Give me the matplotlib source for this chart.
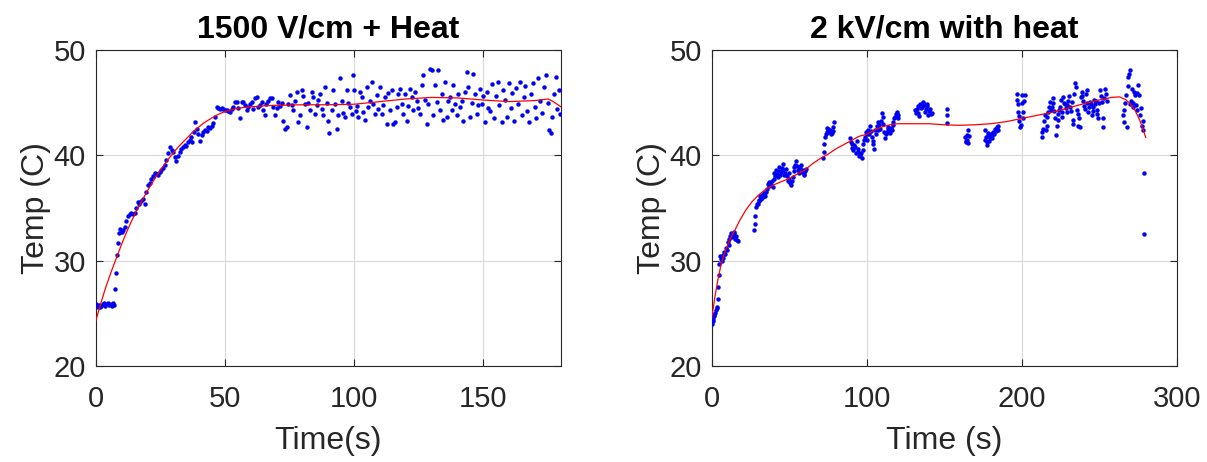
import matplotlib
matplotlib.use("Agg")
import matplotlib.pyplot as plt

plt.rcParams['font.family'] = ['Liberation Sans', 'DejaVu Sans']

# ---------------- Left panel: 1500 V/cm + Heat ----------------
title_left = "1500 V/cm + Heat"
t_left = [0.3, 0.8, 1.3, 1.8, 2.3, 2.8, 3.3, 3.8, 4.3, 4.8, 5.3, 5.8, 6.3, 6.8, 7.2,
          7.7, 7.9, 8.4, 8.7, 9.1, 9.6, 10.1, 10.6, 11.3, 11.9, 12.6, 13.2, 13.8, 14.5, 15.2,
          15.8, 16.4, 17.0, 17.7, 18.3, 19.0, 19.6, 20.3, 21.0, 21.6, 22.3, 22.9, 23.6, 24.2,
          24.8, 25.4, 26.1, 26.7, 27.4, 28.0, 28.9, 29.5, 30.0, 30.6, 31.2, 31.9, 32.5, 33.2,
          33.8, 34.5, 35.1, 35.8, 36.4, 37.0, 37.2, 38.0, 38.5, 39.1, 39.7, 40.4, 41.0, 41.7,
          42.3, 43.0, 43.6, 44.2, 44.9, 45.5, 46.2, 46.8, 47.4, 48.1, 48.8, 49.4, 50.1, 50.7,
          51.4, 52.0, 52.6, 53.3, 53.9, 54.6, 55.2, 55.9, 56.5, 57.1, 57.8, 58.4, 59.1, 59.7,
          60.4, 61.0, 61.7, 62.3, 62.9, 63.6, 64.2, 64.8, 65.5, 66.1, 66.8, 67.5, 68.1, 68.7,
          69.4, 70.1, 70.7, 71.3, 72.0, 72.6, 73.3, 73.9, 74.5, 75.2, 75.8, 76.5, 77.1, 77.8,
          78.4, 79.0, 79.7, 80.3, 81.0, 81.6, 82.3, 82.9, 83.6, 84.2, 84.9, 85.5, 86.2, 86.8,
          87.4, 88.1, 88.7, 89.4, 90.0, 90.4, 91.3, 91.9, 92.6, 93.2, 93.9, 94.5, 95.2, 95.8,
          96.4, 97.1, 97.7, 98.4, 99.0, 99.6, 100.0, 100.6, 101.0, 101.6, 102.3, 102.9, 103.5,
          104.2, 104.8, 105.5, 106.1, 106.8, 107.4, 108.1, 108.7, 109.4, 110.0, 110.6, 111.3,
          112.0, 112.6, 113.2, 113.9, 114.5, 115.1, 115.8, 116.4, 117.0, 117.7, 118.4, 119.0,
          119.6, 120.3, 121.0, 121.6, 122.2, 122.8, 123.5, 124.2, 124.8, 125.4, 126.1, 126.7,
          127.4, 128.0, 128.6, 129.3, 130.0, 130.6, 131.2, 131.9, 132.5, 133.2, 133.8, 134.5,
          135.1, 135.8, 136.4, 137.0, 137.7, 138.3, 139.0, 139.6, 140.3, 141.0, 141.6, 142.2,
          142.9, 143.5, 144.1, 144.8, 145.4, 146.1, 146.7, 147.4, 148.0, 148.6, 149.3, 150.0,
          150.6, 151.3, 151.9, 152.5, 153.2, 154.0, 154.8, 155.5, 156.2, 157.0, 157.7, 158.4,
          159.1, 159.8, 160.5, 161.2, 162.0, 162.7, 163.4, 164.1, 164.8, 165.5, 166.2, 167.0,
          167.7, 168.4, 169.1, 169.8, 170.5, 171.2, 172.0, 172.7, 173.4, 174.1, 174.8, 175.5,
          176.0, 176.5, 177.2, 177.9, 178.6, 179.3, 179.8]
temp_left = [25.9, 25.6, 25.8, 25.6, 25.7, 25.9, 26.0, 25.7, 25.9, 26.0, 25.8, 25.9, 25.7, 26.0, 25.8,
             27.3, 28.8, 30.5, 31.7, 32.6, 33.0, 32.7, 32.9, 33.2, 33.8, 34.2, 34.4, 34.5, 34.4, 34.5,
             35.0, 35.6, 35.4, 35.7, 35.9, 35.4, 36.5, 37.2, 37.4, 37.8, 38.0, 38.3, 38.2, 38.1,
             38.4, 38.6, 38.8, 39.1, 39.6, 40.2, 40.8, 40.5, 40.3, 39.8, 39.5, 39.9, 40.3, 40.6,
             40.8, 41.0, 40.9, 41.3, 41.5, 41.7, 41.3, 42.2, 43.2, 42.5, 42.0, 41.4, 41.9, 42.2,
             42.4, 42.3, 42.7, 42.6, 42.8, 43.1, 43.6, 44.6, 44.5, 44.4, 44.5, 44.4, 44.3, 44.3,
             44.2, 44.1, 44.4, 44.6, 45.1, 45.1, 44.5, 43.5, 45.1, 45.1, 44.8, 44.3, 44.6, 44.9,
             45.1, 44.4, 45.4, 45.5, 44.6, 44.8, 45.1, 44.3, 43.8, 44.9, 45.2, 45.4, 45.4, 44.6,
             43.8, 44.5, 45.1, 44.7, 45.0, 43.3, 42.5, 42.7, 44.9, 45.7, 44.8, 44.3, 45.2, 46.0,
             43.2, 43.8, 46.2, 45.6, 44.9, 42.7, 45.0, 44.3, 46.0, 45.5, 43.9, 44.8, 45.3, 45.8,
             44.4, 43.8, 46.5, 45.0, 43.3, 42.1, 44.3, 46.2, 44.9, 42.5, 43.8, 47.3, 45.2, 44.0,
             43.6, 46.2, 45.0, 44.6, 43.9, 47.6, 46.2, 44.2, 44.7, 43.6, 46.0, 45.5, 44.1,
             43.4, 46.5, 44.6, 45.2, 47.0, 44.9, 43.9, 45.7, 44.4, 46.5, 43.9, 44.8,
             45.5, 43.0, 45.9, 44.3, 46.2, 43.0, 43.2, 44.6, 45.8, 46.3, 44.9, 43.9,
             45.8, 43.3, 44.7, 46.3, 45.5, 44.3, 46.0, 45.2, 44.5, 43.9, 46.7, 47.6,
             45.3, 43.0, 44.9, 48.2, 48.1, 43.8, 46.7, 45.1, 48.1, 44.3, 45.8, 43.4,
             47.0, 43.6, 45.2, 45.5, 44.3, 46.7, 44.9, 43.8, 45.8, 44.6, 45.2, 43.3,
             46.0, 47.9, 46.5, 43.6, 45.0, 47.7, 45.8, 43.9, 44.8, 46.3, 44.9, 45.6,
             43.2, 46.0, 44.5, 44.2, 46.8, 43.5, 45.6, 47.0, 44.8, 43.2, 46.2, 45.3,
             43.6, 46.9, 44.5, 45.9, 43.3, 46.4, 44.9, 47.0, 43.8, 45.5, 46.6, 44.2,
             43.2, 45.8, 46.9, 44.6, 43.5, 47.3, 45.2, 44.0, 46.5, 47.6, 45.0, 42.4,
             42.1, 43.6, 45.8, 47.4, 44.4, 46.2, 43.9]
fit_t_left = [0, 2, 4, 6, 8, 10, 12, 14, 16, 18, 20, 22, 24, 26, 28, 30, 32, 34, 36, 38, 40,
              42, 44, 46, 48, 50, 53, 56, 60, 65, 70, 80, 90, 100, 110, 120, 130, 140, 150,
              160, 170, 175, 177, 180]
fit_temp_left = [24.2, 25.9, 27.5, 28.9, 30.2, 31.5, 32.7, 33.8, 34.8, 35.7, 36.6, 37.4, 38.2,
                 38.9, 39.6, 40.2, 40.8, 41.3, 41.8, 42.3, 42.7, 43.1, 43.4, 43.7, 43.95, 44.15,
                 44.35, 44.5, 44.6, 44.7, 44.75, 44.8, 44.8, 44.85, 45.1, 45.35, 45.5, 45.45,
                 45.25, 45.1, 45.2, 45.35, 45.1, 44.6]

# ---------------- Right panel: 2 kV/cm with heat ----------------
title_right = "2 kV/cm with heat"
t_right = [0.0, 0.3, 0.6, 1.0, 1.3, 1.7, 2.2, 2.8, 3.1, 3.4, 3.9, 4.3, 4.5, 4.9, 5.4, 6.0, 6.5,
           7.1, 7.6, 8.1, 8.7, 9.2, 9.8, 10.3, 10.9, 11.4, 12.0, 12.5, 13.0, 13.5, 14.1, 14.6,
           15.2, 15.7, 16.3, 16.8,
           27.5, 28.1, 28.1, 28.6, 29.2, 29.7, 30.2, 30.7, 31.3, 31.8, 32.4, 32.9, 33.5, 34.0,
           34.5, 35.0, 35.6, 36.1, 36.7, 37.2, 37.8, 38.3, 38.9, 39.4, 40.0, 40.4, 41.0, 41.5,
           42.1, 42.6, 43.1, 43.6, 44.2, 44.7, 45.3, 45.8, 46.3, 46.8, 47.4, 47.9, 48.5, 49.0,
           49.6, 50.1, 50.7, 51.2, 51.7, 52.2, 52.8, 53.3, 53.9, 54.4, 55.0, 55.5, 56.0, 56.5,
           57.1, 57.6, 58.2, 58.7, 59.3, 59.8, 60.3, 60.8,
           72.0, 72.5, 72.6, 73.1, 73.6, 74.2, 74.7, 75.2, 75.8, 76.3, 76.9, 77.4, 78.0, 78.5, 79.1,
           89.2, 89.7, 90.3, 90.8, 91.4, 91.9, 92.5, 93.0, 93.5, 94.1, 94.6, 95.2, 95.7, 96.3,
           96.8, 97.4, 97.8, 98.4, 98.9, 99.5, 100.0, 100.5, 101.0, 101.6, 102.1, 102.7, 103.2,
           103.8, 104.3, 104.9, 105.4, 106.0, 106.5, 107.0, 107.5, 108.1, 108.6, 109.2, 109.7,
           110.2, 110.7, 111.3, 111.8, 112.4, 112.9, 113.5, 114.0, 114.5, 115.0, 115.6, 116.1,
           116.7, 117.2, 117.8, 118.3, 118.9, 119.4, 120.0, 120.4,
           131.2, 131.7, 132.3, 132.8, 133.3, 133.9, 134.4, 134.9, 135.5, 136.0, 136.5, 137.1,
           137.6, 138.2, 138.7, 139.2, 139.8, 140.3, 140.8, 141.4, 141.9,
           151.6, 151.7, 152.0,
           163.4, 163.8, 164.1, 164.5, 165.0, 165.3, 165.6, 166.0,
           176.3, 176.6, 177.0, 177.4, 177.8, 178.1, 178.5, 179.0, 179.5, 180.0, 180.6, 181.1,
           181.7, 182.2, 182.8, 183.3, 183.9, 184.4, 184.9,
           196.8, 197.1, 197.4, 197.8, 198.1, 198.5, 198.9, 199.3, 200.0, 200.3, 200.6, 201.0,
           201.5, 202.1,
           212.9, 213.2, 213.5, 214.2, 215.0, 215.5, 216.1, 216.6, 217.2, 217.7, 218.3, 218.9,
           219.4, 219.9, 220.4, 221.0, 221.5, 222.1, 222.6, 223.1, 223.6, 224.2, 224.7, 225.3,
           225.8, 226.3, 226.8, 227.4, 227.9, 228.5, 229.0, 229.5, 230.0, 230.6, 231.1, 231.7,
           232.2, 232.8, 233.3, 233.9, 234.4, 235.0, 235.5, 236.0, 236.5, 237.1, 237.6, 238.2,
           238.7, 239.2, 239.7, 240.3, 240.8, 241.4, 241.9, 242.4, 243.0, 243.5, 244.0, 244.6,
           245.1, 245.7, 246.2, 246.7, 247.3, 247.8, 248.4, 248.9, 249.4, 250.0, 250.5, 251.1,
           251.6, 252.3, 252.6, 253.2, 253.7, 254.3, 254.8,
           265.5, 265.8, 266.2, 266.8, 267.3, 267.7, 268.3, 268.8, 269.3, 269.9, 269.9, 270.5,
           271.0, 271.5, 272.0, 272.6, 273.1, 273.6, 274.2, 274.7, 275.3, 275.9, 276.3, 276.9,
           277.4, 278.1, 278.5, 278.9, 279.1]
temp_right = [24.2, 24.0, 24.5, 24.3, 24.7, 24.8, 25.0, 25.3, 25.5, 25.6, 26.4, 27.5, 28.6, 29.7,
              30.4, 30.2, 30.0, 30.5, 30.3, 30.8, 30.6, 31.2, 31.0, 31.8, 31.5, 32.1, 32.3, 32.6,
              32.2, 32.4, 32.6, 32.7, 32.1, 32.3, 32.0, 31.9,
              32.9, 33.5, 34.2, 35.1, 35.4, 35.4, 35.8, 35.7, 36.1, 35.9, 36.2, 36.0, 36.3, 36.4,
              36.1, 36.5, 36.8, 37.3, 37.1, 37.5, 37.3, 37.2, 37.6, 37.0, 37.8, 38.3, 38.0, 38.6,
              38.2, 37.9, 38.5, 38.9, 38.1, 38.4, 38.8, 39.2, 38.6, 38.1, 38.3, 38.7, 38.0, 37.6,
              37.8, 38.3, 37.4, 37.2, 37.6, 37.9, 38.5, 38.9, 39.1, 39.5, 39.0, 38.6, 38.9, 38.3,
              38.8, 39.1, 38.4, 38.6, 38.2, 38.1, 38.5, 38.7,
              39.7, 40.3, 41.1, 41.7, 42.0, 42.2, 42.6, 42.5, 42.2, 42.4, 42.0, 42.1, 42.3, 42.7, 43.2,
              41.6, 41.3, 41.1, 40.7, 40.5, 41.0, 40.8, 40.2, 41.4, 40.6, 40.3, 39.9, 40.0, 40.2,
              39.7, 40.5, 41.1, 41.5, 41.7, 42.2, 42.0, 41.5, 42.4, 42.0, 42.8, 42.3, 41.7,
              41.4, 41.1, 40.6, 42.4, 42.0, 42.8, 42.4, 43.2, 42.9, 42.5, 43.3, 44.0,
              43.6, 43.0, 42.2, 41.6, 42.0, 42.2, 42.5, 42.7, 42.4, 42.1, 42.6, 42.4,
              42.9, 43.2, 43.5, 43.6, 43.9, 44.1, 43.8, 43.5,
              44.3, 44.0, 44.4, 44.7, 44.0, 43.7, 44.9, 44.5, 44.6, 45.0, 45.1, 44.8,
              44.1, 44.4, 44.7, 44.9, 43.8, 44.2, 44.4, 43.9, 44.0,
              44.4, 43.8, 43.1,
              41.7, 41.3, 41.4, 41.5, 41.9, 41.2, 42.4, 41.8,
              42.4, 41.5, 41.7, 41.0, 41.3, 41.9, 42.1, 41.4, 41.6, 42.0, 41.9, 41.6,
              42.2, 42.0, 42.5, 42.3, 42.7, 42.4, 42.8,
              45.8, 45.3, 44.9, 44.1, 43.7, 43.3, 42.7, 42.9, 45.7, 45.0, 44.1, 43.5,
              45.2, 45.7,
              41.7, 42.2, 42.5, 43.3, 43.8, 42.4, 42.8, 43.6, 44.1, 44.6, 45.1, 44.3,
              44.6, 45.0, 45.4, 44.2, 43.5, 41.9, 42.8, 43.4, 43.9, 44.3, 44.6, 45.3,
              44.1, 43.6, 45.5, 45.0, 44.9, 44.5, 44.1, 44.8, 45.2, 45.6, 44.6, 44.2,
              45.1, 43.4, 43.0, 45.8, 46.9, 46.5, 44.3, 43.9, 42.8, 43.5, 42.7, 45.5,
              46.0, 45.6, 45.2, 44.7, 44.4, 45.8, 46.2, 45.0, 44.1, 44.6, 45.1, 44.9,
              43.8, 44.2, 44.6, 45.3, 44.9, 45.2, 44.3, 43.9, 43.5, 45.0, 46.2, 45.6,
              45.1, 42.7, 43.5, 45.4, 46.3, 45.8, 45.2,
              43.8, 44.3, 43.2, 45.0, 45.7, 42.7, 46.6, 47.4, 47.7, 48.1, 44.9, 45.2,
              46.3, 45.0, 44.6, 46.0, 45.7, 44.8, 44.3, 45.9, 46.7, 45.7, 43.8, 44.5,
              42.8, 43.3, 42.4, 38.3, 32.5]
fit_t_right = [0, 2, 4, 6, 8, 10, 12, 15, 18, 22, 26, 30, 35, 40, 45, 50, 55, 60, 65, 70, 75,
               80, 85, 90, 95, 100, 105, 110, 115, 120, 130, 140, 150, 160, 170, 180, 190, 200,
               210, 220, 230, 240, 250, 258, 263, 267, 270, 273, 276, 278, 280]
fit_temp_right = [24.5, 26.5, 28.2, 29.6, 30.6, 31.4, 32.1, 32.9, 33.8, 34.8, 35.6, 36.2, 36.8,
                  37.2, 37.5, 37.8, 38.2, 38.6, 39.2, 39.7, 40.1, 40.6, 41.0, 41.4, 41.8, 42.0,
                  42.4, 42.7, 42.9, 43.0, 43.0, 43.0, 42.9, 42.85, 42.9, 43.0, 43.2, 43.5, 43.8,
                  44.1, 44.5, 44.9, 45.25, 45.5, 45.55, 45.3, 44.9, 44.3, 43.4, 42.6, 41.7]

xlabels = ["Time(s)", "Time (s)"]
ylabel = "Temp (C)"
xticks_left = [0, 50, 100, 150]
xticks_right = [0, 100, 200, 300]
yticks = [20, 30, 40, 50]

W, H = 1207, 462
fig = plt.figure(figsize=(W / 100, H / 100), dpi=100)
ax_l = fig.add_axes([95.5 / W, (H - 366) / H, 465.5 / W, 316 / H])
ax_r = fig.add_axes([711.7 / W, (H - 366) / H, 465.0 / W, 316 / H])

dark = (0.15, 0.15, 0.15)
panels = [
    (ax_l, t_left, temp_left, fit_t_left, fit_temp_left, title_left, xlabels[0], xticks_left, (0, 180)),
    (ax_r, t_right, temp_right, fit_t_right, fit_temp_right, title_right, xlabels[1], xticks_right, (0, 300)),
]
for ax, tx, ty, ft, fy, ttl, xl, xt, xlim in panels:
    ax.plot(tx, ty, linestyle='none', marker='o', markersize=3.2, color=(0, 0, 0.95),
            markeredgewidth=0, zorder=3)
    ax.plot(ft, fy, color=(1, 0, 0), linewidth=0.9, zorder=4)
    ax.set_xlim(*xlim)
    ax.set_ylim(20, 50)
    ax.set_xticks(xt)
    ax.set_yticks(yticks)
    ax.grid(True, color=(0.85, 0.85, 0.85), linewidth=0.8)
    ax.set_axisbelow(True)
    ax.tick_params(direction='in', top=True, right=True, length=5, width=0.8,
                   colors=dark, labelsize=21)
    ax.tick_params(axis='x', pad=14)
    ax.tick_params(axis='y', pad=7)
    for sp in ax.spines.values():
        sp.set_color(dark)
        sp.set_linewidth(0.8)
    ax.set_title(ttl, fontsize=23, fontweight='bold', color='black', pad=9)
    ax.set_xlabel(xl, fontsize=23, color=dark, labelpad=9)
    ax.set_ylabel(ylabel, fontsize=23, color=dark, labelpad=2)

fig.savefig("out.png", dpi=100, facecolor='white')
